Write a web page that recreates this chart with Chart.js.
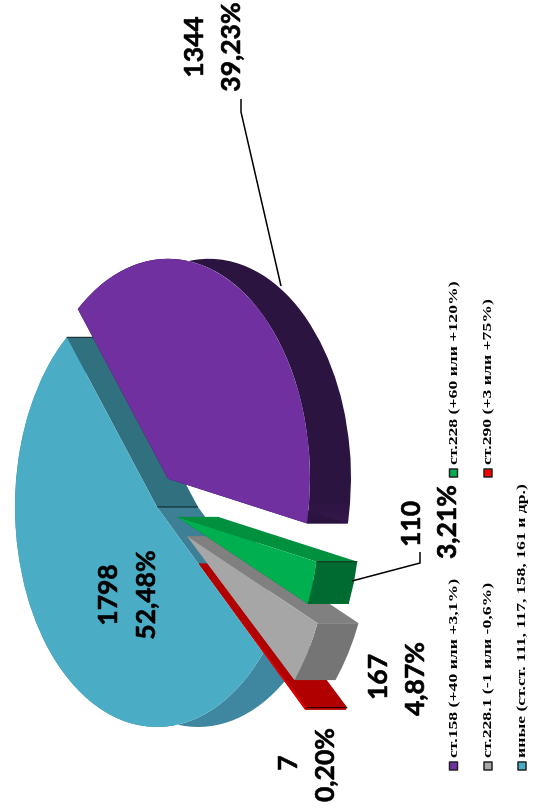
<!DOCTYPE html>
<html lang="ru">
<head>
<meta charset="utf-8">
<title>Статьи УК</title>
<script src="https://cdn.jsdelivr.net/npm/chart.js@4"></script>
<style>
html,body{margin:0;padding:0;background:#fff;overflow:hidden;width:544px;height:810px}
#wrap{position:absolute;left:0;top:0;width:810px;height:544px;transform-origin:0 0;transform:translateY(810px) rotate(-90deg)}
canvas{filter:blur(0.4px)}
</style>
</head>
<body>
<div id="wrap"><canvas id="c" width="810" height="544"></canvas></div>
<script>
const categories = ['ст.158 (+40 или +3,1%)','ст.228 (+60 или +120%)','ст.228.1 (-1 или -0,6%)','ст.290 (+3 или +75%)','иные (ст.ст. 111, 117, 158, 161 и др.)'];
const counts = [1344,110,167,7,1798];
const percents = ['39,23%','3,21%','4,87%','0,20%','52,48%'];
const topColors = ['#7030A0','#00B050','#A6A6A6','#E00000','#4BACC6'];
const legendColors = ['#7030A0','#00B050','#A6A6A6','#FF0000','#4BACC6'];
const rimColors = ['#2C1440','#006B30','#757575','#B00000','#3F87A0'];
const startWallColors = ['#2C1440','#00903E','#808080','#B00000','#3D8096'];
const endWallColors = ['#2C1440','#006B30','#757575','#B00000','#30707F'];
const explode = [33,33,55,86,0];
const paintOrder = [4,0,3,2,1];

const TILT = 142/220, DEPTH = 41, LEGEND_STRETCH = 1.31;

const pie3d = {
  id:'pie3d',
  beforeDatasetsDraw(chart){
    const ctx = chart.ctx, arcs = chart.getDatasetMeta(0).data;
    paintOrder.forEach(i=>{
      const arc = arcs[i];
      const {x,y,startAngle:s,endAngle:e,outerRadius:R} = arc.getProps(['x','y','startAngle','endAngle','outerRadius'],true);
      const mid=(s+e)/2, cx=x+explode[i]*Math.cos(mid), cy=y+TILT*explode[i]*Math.sin(mid);
      const px=a=>cx+R*Math.cos(a), py=a=>cy+TILT*R*Math.sin(a);
      // rim
      ctx.beginPath();
      ctx.ellipse(cx,cy,R,TILT*R,0,s,e);
      ctx.ellipse(cx,cy+DEPTH,R,TILT*R,0,e,s,true);
      ctx.closePath();
      if(i===0){
        const g=ctx.createLinearGradient(cx-R*0.1,0,cx-R*0.35,0);
        g.addColorStop(0,'#2C1440');g.addColorStop(1,'#3F1B5E');
        ctx.fillStyle=g;
      } else ctx.fillStyle=rimColors[i];
      ctx.fill();
      // radial walls: the trailing wall goes first, it is behind the leading one
      [[e,endWallColors[i]],[s,startWallColors[i]]].forEach(([a,col])=>{
        ctx.beginPath();
        ctx.moveTo(cx,cy);ctx.lineTo(px(a),py(a));
        ctx.lineTo(px(a),py(a)+DEPTH);ctx.lineTo(cx,cy+DEPTH);
        ctx.closePath();ctx.fillStyle=col;ctx.fill();
      });
      // dark vertical edges where the walls meet
      ctx.strokeStyle='rgba(0,0,0,0.75)';ctx.lineWidth=1;
      const edges = i===4 ? [[cx,cy],[px(e),py(e)]] : (i===1||i===3) ? [[px(s),py(s)]] : [];
      edges.forEach(([ex,ey])=>{
        ctx.beginPath();ctx.moveTo(ex,ey);ctx.lineTo(ex,ey+DEPTH);ctx.stroke();
      });
      // top face, drawn by the library element
      ctx.save();
      ctx.translate(cx,cy);ctx.scale(1,TILT);ctx.translate(-x,-y);
      arc.draw(ctx);
      ctx.restore();
    });
    return false;
  },
  afterDraw(chart){
    const ctx=chart.ctx;
    ctx.save();
    // leader lines
    ctx.strokeStyle='#000';ctx.lineWidth=1.5;
    [[[711,241],[698,241],[524,281]],[[258,420],[247,420],[229,352]]].forEach(p=>{
      ctx.beginPath();ctx.moveTo(p[0][0],p[0][1]);ctx.lineTo(p[1][0],p[1][1]);ctx.lineTo(p[2][0],p[2][1]);ctx.stroke();
    });
    // data labels
    const labelPos=[[763,194,763,231],[286,411,288,447],[133,378,131,415],[47,288,45,325],[215,108,215,146]];
    ctx.fillStyle='#000';ctx.textAlign='center';ctx.textBaseline='middle';
    ctx.font='bold 26.5px Lato';ctx.lineWidth=0.6;ctx.lineJoin='round';
    counts.forEach((v,i)=>{
      const p=labelPos[i];
      ctx.fillText(String(v),p[0],p[1]);ctx.strokeText(String(v),p[0],p[1]);
      ctx.fillText(percents[i],p[2],p[3]);ctx.strokeText(percents[i],p[2],p[3]);
    });
    // legend
    const legendPos=[[44,453.5],[337,453.5],[44,488],[337,488],[44,522]];
    ctx.font='bold 13.5px "Liberation Serif"';ctx.textAlign='left';
    categories.forEach((t,i)=>{
      const [lx,ly]=legendPos[i];
      ctx.fillStyle=legendColors[i];ctx.strokeStyle='#222';ctx.lineWidth=1.5;
      ctx.fillRect(lx-4,ly-4,8,8);ctx.strokeRect(lx-4,ly-4,8,8);
      ctx.fillStyle='#000';
      ctx.save();
      ctx.translate(lx+8,ly);ctx.scale(LEGEND_STRETCH,1);
      ctx.fillText(t,0,0);
      ctx.restore();
    });
    ctx.restore();
  }
};

new Chart(document.getElementById('c'),{
  type:'pie',
  data:{labels:categories,datasets:[{data:counts,backgroundColor:topColors,borderWidth:0}]},
  options:{
    responsive:false,animation:false,
    rotation:50.5,radius:220,
    layout:{padding:{right:204,bottom:230}},
    plugins:{legend:{display:false},tooltip:{enabled:false}}
  },
  plugins:[pie3d,{id:'bg',beforeDraw(c){c.ctx.save();c.ctx.fillStyle='#fff';c.ctx.fillRect(0,0,c.width,c.height);c.ctx.restore();}}]
});
</script>
</body>
</html>
